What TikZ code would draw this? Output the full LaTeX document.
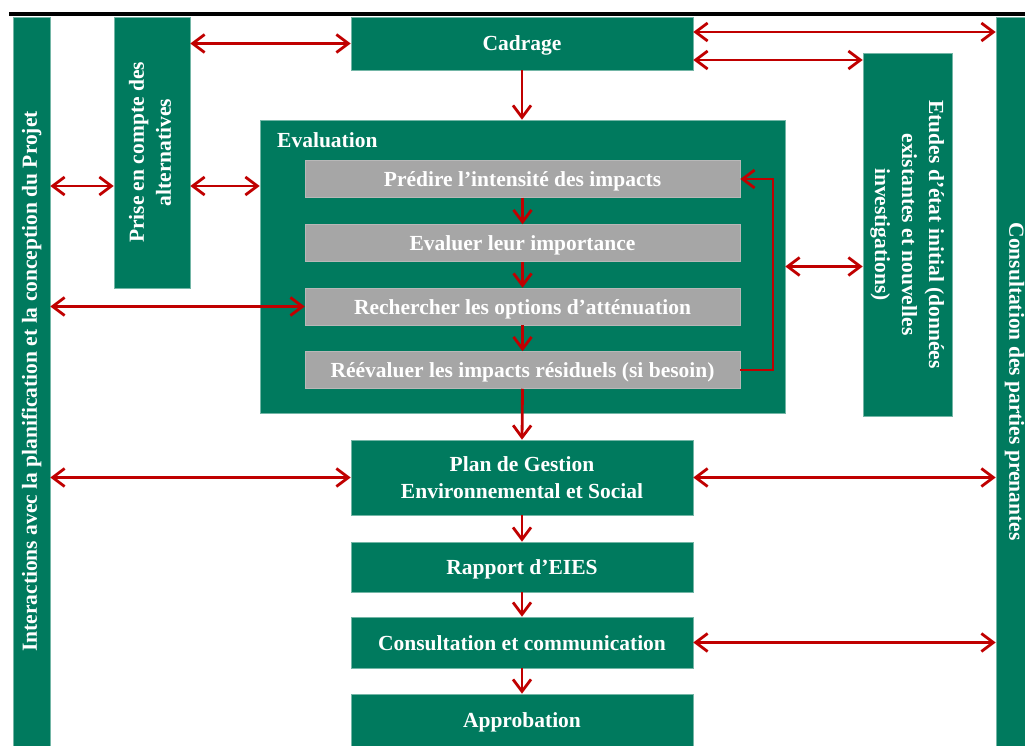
\documentclass[tikz,border=0pt]{standalone}
\usepackage{fontspec}
\setmainfont{Liberation Serif}
\usetikzlibrary{arrows.meta}
\definecolor{grn}{RGB}{0,122,94}
\definecolor{arrred}{RGB}{192,0,0}
\definecolor{gry}{RGB}{166,166,166}
\begin{document}
\begin{tikzpicture}[x=1pt,y=-1pt,
  every node/.style={font=\bfseries\fontsize{21.5}{27}\selectfont},
  gbox/.style={fill=grn, draw=grn!55!white, line width=0.6pt, text=white, inner sep=0pt, align=center},
  oneline/.style={text height=15pt, text depth=0pt},
  graybox/.style={fill=gry, draw=gry!80!white, line width=0.5pt, text=white, inner sep=0pt, align=center, minimum width=435pt, minimum height=37pt, oneline},
  biarr/.style={draw=arrred, line width=2.8pt, {Straight Barb[length=12pt,width=18pt]}-{Straight Barb[length=12pt,width=18pt]}},
  onearr/.style={draw=arrred, line width=2.8pt, -{Straight Barb[length=12pt,width=18pt]}}]
\useasboundingbox (0,0) rectangle (1025,746);
\clip (0,0) rectangle (1025,746);
% top rule
\draw[line width=4pt] (9,14) -- (1030,14);
% side bars
\node[gbox, minimum width=37pt, minimum height=729pt] (L) at (31.5,381.5)
  {\rotatebox{90}{Interactions avec la planification et la conception du Projet}};
\node[gbox, minimum width=37pt, minimum height=729pt] (R) at (1014.5,381.5)
  {\rotatebox{-90}{Consultation des parties prenantes}};
\node[gbox, minimum width=76pt, minimum height=271pt] (P) at (152,152.5)
  {\rotatebox{90}{\begin{tabular}{@{}c@{}}Prise en compte des\\alternatives\end{tabular}}};
\node[gbox, minimum width=89pt, minimum height=363pt] (Et) at (907.5,234.5)
  {\rotatebox{-90}{\begin{tabular}{@{}c@{}}Etudes d’état initial (données\\existantes et nouvelles\\investigations)\end{tabular}}};
% main column
\node[gbox, oneline, minimum width=342pt, minimum height=53pt] (C) at (522,43.5) {Cadrage};
\node[gbox, minimum width=525pt, minimum height=293pt] (E) at (522.5,266.5) {};
\node[text=white, anchor=base west, inner sep=0pt] (Elab) at (277,148) {Evaluation};
\node[graybox] (g1) at (522.5,179) {Prédire l’intensité des impacts};
\node[graybox] (g2) at (522.5,243) {Evaluer leur importance};
\node[graybox] (g3) at (522.5,306.5) {Rechercher les options d’atténuation};
\node[graybox] (g4) at (522.5,370) {Réévaluer les impacts résiduels (si besoin)};
\node[gbox, minimum width=342pt, minimum height=75pt] (Pl) at (522,477.5)
  {Plan de Gestion\\Environnemental et Social};
\node[gbox, oneline, minimum width=342pt, minimum height=50pt] (Ra) at (522,567) {Rapport d’EIES};
\node[gbox, oneline, minimum width=342pt, minimum height=51pt] (Co) at (522,642.5) {Consultation et communication};
\node[gbox, oneline, minimum width=342pt, minimum height=52pt] (Ap) at (522,720) {Approbation};
% row coordinates
\coordinate (y32) at (0,32);
\coordinate (y60) at (0,60);
\coordinate (y186) at (0,186);
\coordinate (fb) at (773,0);
% connectors
\draw[biarr] (P.east |- C.west) -- (C.west);
\draw[biarr] (C.east |- y32) -- (R.west |- y32);
\draw[biarr] (C.east |- y60) -- (Et.west |- y60);
\draw[onearr] (C.south) -- (C.south |- E.north);
\draw[biarr] (L.east |- y186) -- (P.west |- y186);
\draw[biarr] (P.east |- y186) -- (E.west |- y186);
\draw[biarr] (L.east |- g3.west) -- (g3.west);
\draw[biarr] (E.east) -- (Et.west |- E.east);
\draw[onearr] (g1.south) -- (g2.north);
\draw[onearr] (g2.south) -- (g3.north);
\draw[onearr] (g3.south) -- (g4.north);
\draw[onearr] (g4.east) -- (g4.east -| fb) |- (g1.east);
\draw[onearr] (g4.south) -- (Pl.north);
\draw[biarr] (L.east |- Pl.west) -- (Pl.west);
\draw[biarr] (Pl.east) -- (R.west |- Pl.east);
\draw[onearr] (Pl.south) -- (Ra.north);
\draw[onearr] (Ra.south) -- (Co.north);
\draw[onearr] (Co.south) -- (Ap.north);
\draw[biarr] (Co.east) -- (R.west |- Co.east);
\end{tikzpicture}
\end{document}
